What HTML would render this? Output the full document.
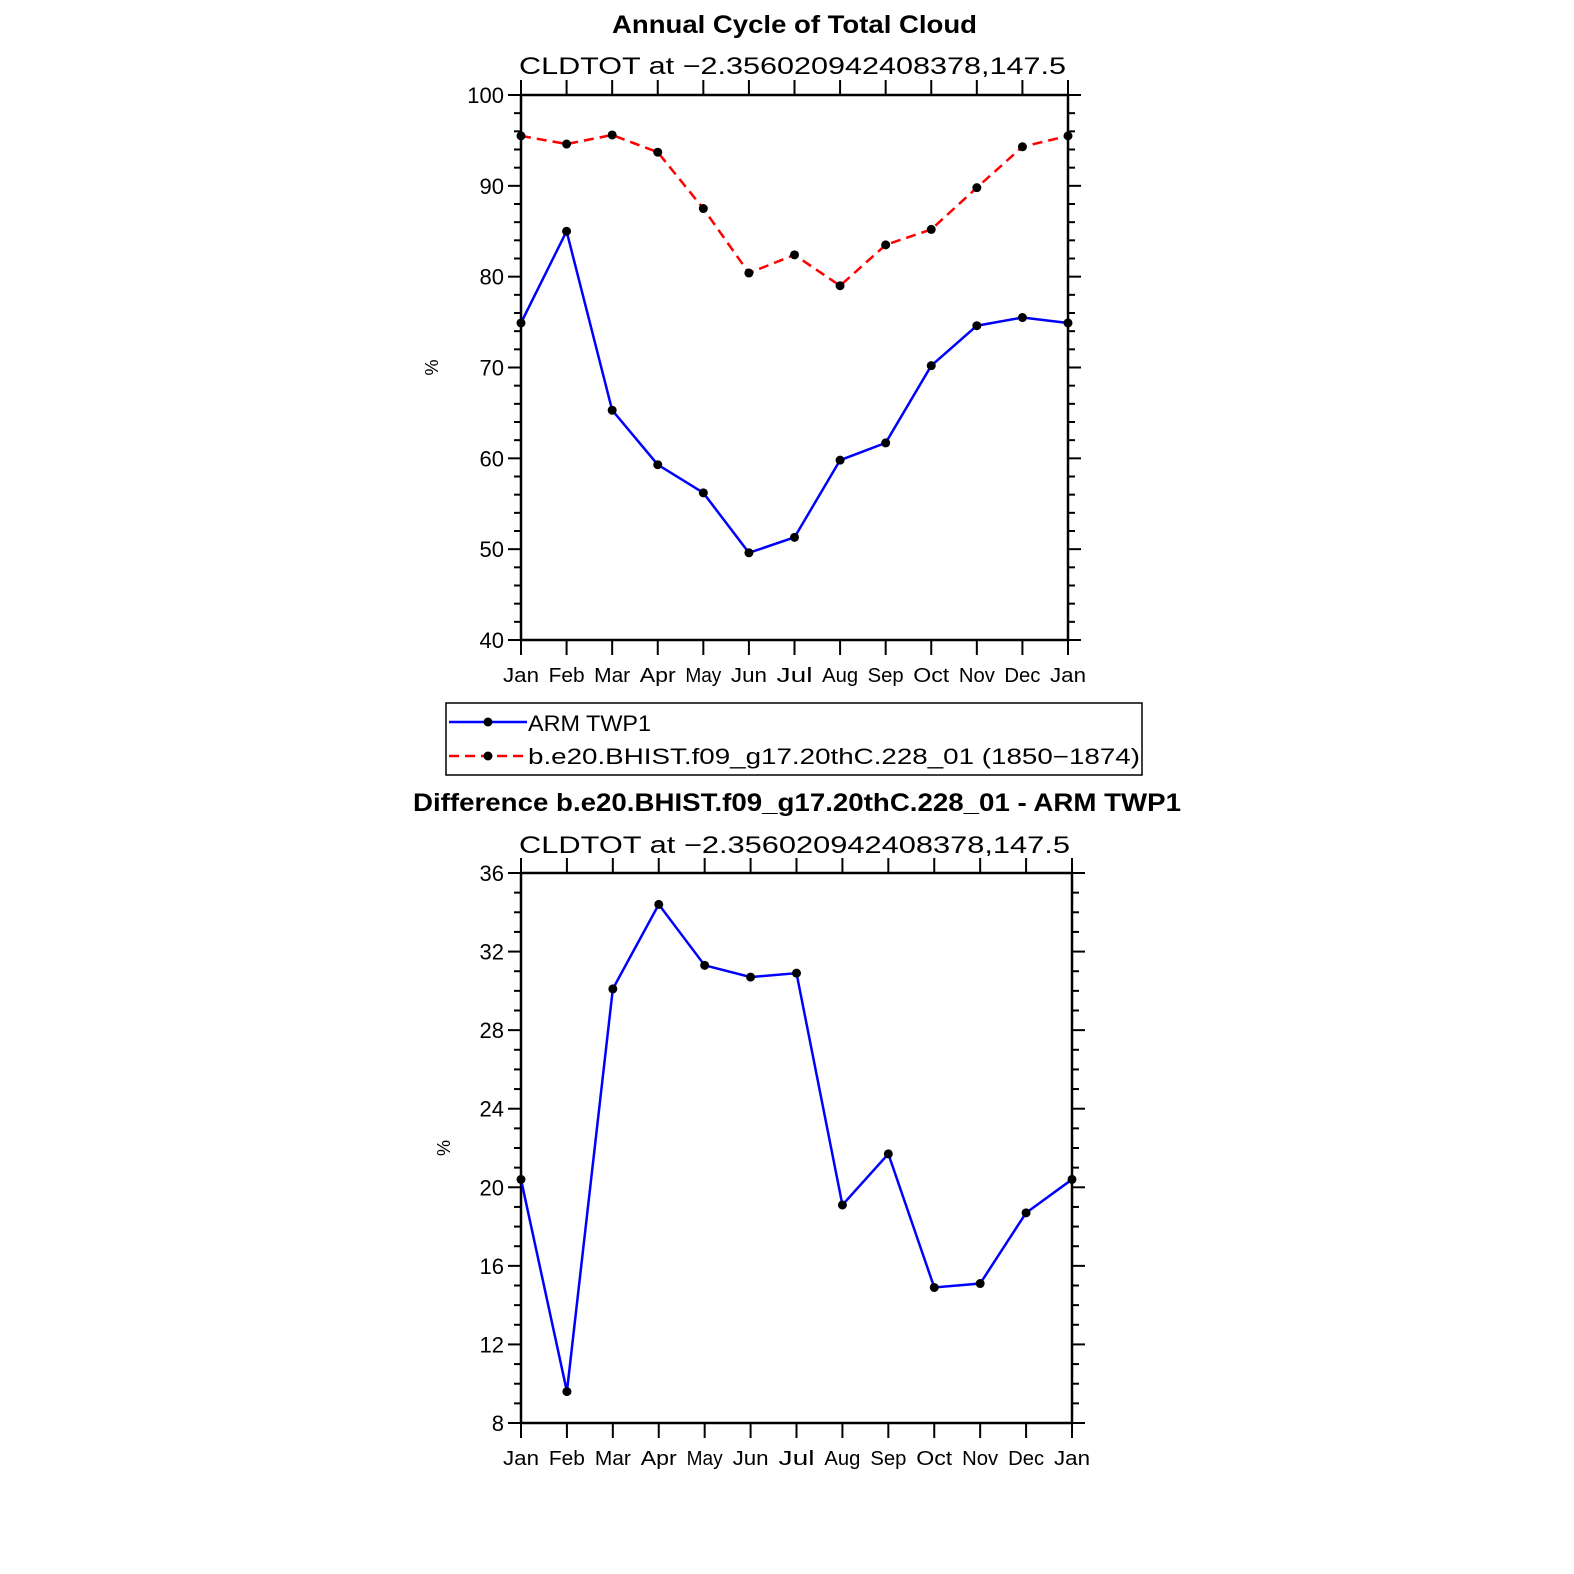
<!DOCTYPE html>
<html><head><meta charset="utf-8"><style>
body{margin:0;background:#fff;}
svg{display:block;font-family:"Liberation Sans","DejaVu Sans",sans-serif;}
</style></head><body>
<svg id="chart" width="1574" height="1574" viewBox="0 0 1574 1574" xmlns="http://www.w3.org/2000/svg">
<text x="612" y="33" font-size="25" font-weight="bold" textLength="365" lengthAdjust="spacingAndGlyphs">Annual Cycle of Total Cloud</text>
<text x="519" y="74" font-size="24" textLength="547" lengthAdjust="spacingAndGlyphs">CLDTOT at −2.356020942408378,147.5</text>
<text x="413" y="811" font-size="25" font-weight="bold" textLength="768" lengthAdjust="spacingAndGlyphs">Difference b.e20.BHIST.f09_g17.20thC.228_01 - ARM TWP1</text>
<text x="519" y="853" font-size="24" textLength="551" lengthAdjust="spacingAndGlyphs">CLDTOT at −2.356020942408378,147.5</text>
<g id="top"></g>
<g id="bot"></g>
<g>
<rect x="446" y="703" width="696" height="72" fill="none" stroke="#000" stroke-width="1.5"/>
<g>
<line x1="449" y1="722" x2="527" y2="722" stroke="#00f" stroke-width="2.5"/>
<circle cx="488" cy="722" r="4.5"/>
<text x="528" y="731" font-size="22" textLength="123" lengthAdjust="spacingAndGlyphs">ARM TWP1</text></g>
<g>
<line x1="449" y1="756" x2="527" y2="756" stroke="#f00" stroke-width="2.5" stroke-dasharray="10,6"/>
<circle cx="488" cy="756" r="4.5"/>
<text x="528" y="764" font-size="22" textLength="612" lengthAdjust="spacingAndGlyphs">b.e20.BHIST.f09_g17.20thC.228_01 (1850−1874)</text></g>
</g>
</svg>
<script>
const months=["Jan","Feb","Mar","Apr","May","Jun","Jul","Aug","Sep","Oct","Nov","Dec","Jan"];
const armValues=[74.9,85.0,65.3,59.3,56.2,49.6,51.3,59.8,61.7,70.2,74.6,75.5,74.9];
const modelValues=[95.5,94.6,95.6,93.7,87.5,80.4,82.4,79.0,83.5,85.2,89.8,94.3,95.5];
const diffValues=[20.4,9.6,30.1,34.4,31.3,30.7,30.9,19.1,21.7,14.9,15.1,18.7,20.4];
const topTicks=[40,50,60,70,80,90,100];
const botTicks=[8,12,16,20,24,28,32,36];
const NS="http://www.w3.org/2000/svg";
function mk(parent,tag,attrs){const e=document.createElementNS(NS,tag);for(const k in attrs)e.setAttribute(k,attrs[k]);parent.appendChild(e);return e;}
function plot(g,cfg){
  const {x0,x1,y0,y1,ymin,ymax,ticks,minorStep,series,ylabX}=cfg;
  const sx=i=>x0+(x1-x0)*i/(months.length-1);
  const sy=v=>y1-(y1-y0)*(v-ymin)/(ymax-ymin);
  const frame=mk(g,"rect",{x:x0,y:y0,width:x1-x0,height:y1-y0,fill:"none",stroke:"#000","stroke-width":2.5});
  
  
  for(let v=ymin;v<=ymax+1e-9;v+=minorStep){
    const major=ticks.includes(Math.round(v));const L=major?13:7;const y=sy(v);
    mk(g,"line",{x1:x0-L,y1:y,x2:x0,y2:y,stroke:"#000","stroke-width":2});
    mk(g,"line",{x1:x1,y1:y,x2:x1+L,y2:y,stroke:"#000","stroke-width":2});
  }
  ticks.forEach(t=>{const tx=mk(g,"text",{x:x0-17,y:sy(t)+8,"text-anchor":"end","font-size":22});tx.textContent=t;
    
    });
  months.forEach((m,i)=>{const x=sx(i);
    mk(g,"line",{x1:x,y1:y1,x2:x,y2:y1+15,stroke:"#000","stroke-width":2});
    mk(g,"line",{x1:x,y1:y0-15,x2:x,y2:y0,stroke:"#000","stroke-width":2});
    const tx=mk(g,"text",{x:x,y:y1+42,"text-anchor":"middle","font-size":20,textLength:36,lengthAdjust:"spacingAndGlyphs"});tx.textContent=m;
    
    });
  const yl=mk(g,"text",{x:ylabX,y:(y0+y1)/2,"text-anchor":"middle","font-size":18,transform:`rotate(-90 ${ylabX} ${(y0+y1)/2})`});yl.textContent="%";
  
  
  series.forEach(s=>{
    const pts=s.values.map((v,i)=>sx(i)+","+sy(v)).join(" ");
    const pl=mk(g,"polyline",{points:pts,fill:"none",stroke:s.color,"stroke-width":2.5,"stroke-dasharray":s.dash||"none"});
    
    
    s.values.forEach((v,i)=>{const c=mk(g,"circle",{cx:sx(i),cy:sy(v),r:4.5,fill:"#000"});
      
      });
  });
}
plot(document.getElementById("top"),{x0:521,x1:1068,y0:95,y1:640,ymin:40,ymax:100,ticks:topTicks,minorStep:2,ylabX:438,
  series:[{values:armValues,color:"#00f",name:"arm"},{values:modelValues,color:"#f00",dash:"10,6",name:"model"}]});
plot(document.getElementById("bot"),{x0:521,x1:1072,y0:873,y1:1423,ymin:8,ymax:36,ticks:botTicks,minorStep:1,ylabX:450,
  series:[{values:diffValues,color:"#00f",name:"difference"}]});
</script>
</body></html>
